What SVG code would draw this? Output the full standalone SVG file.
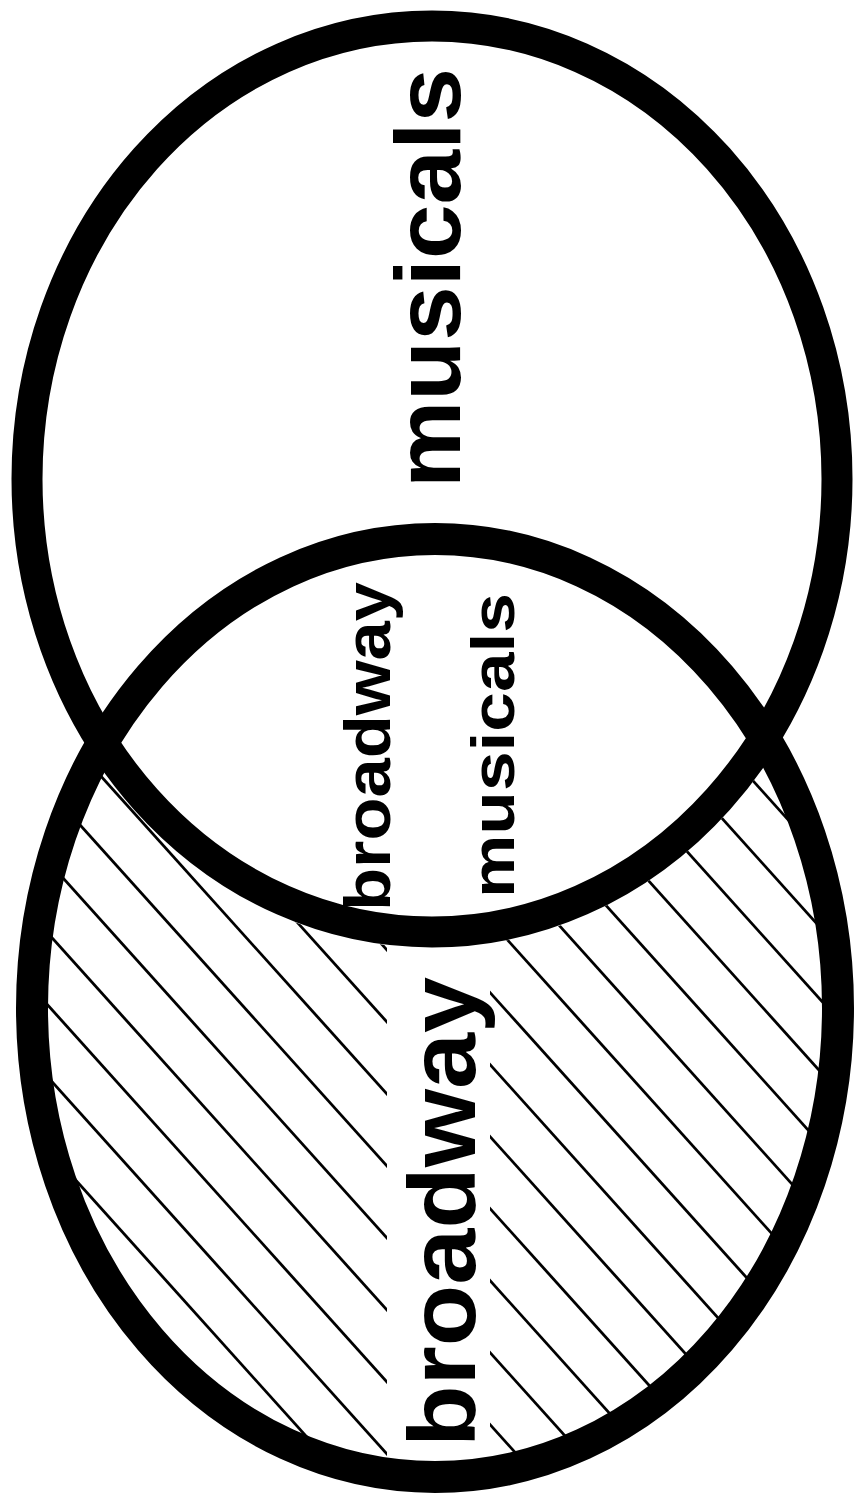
<svg xmlns="http://www.w3.org/2000/svg" width="854" height="1495" viewBox="0 0 854 1495">
  <style>
    .ring { fill: none; stroke: #000; }
    .hatch line { stroke: #000; stroke-width: 2.8; }
    .lbl { font-family: "Liberation Sans", Arial, Helvetica, sans-serif; font-weight: bold; fill: #000; }
  </style>
  <defs>
    <mask id="hatchMask" maskUnits="userSpaceOnUse" x="0" y="0" width="854" height="1495">
      <rect x="0" y="0" width="854" height="1495" fill="#000"/>
      <ellipse cx="435" cy="1008" rx="402" ry="469" fill="#fff"/>
      <ellipse cx="432" cy="479" rx="420" ry="469" fill="#000"/>
      <rect x="387" y="900" width="103" height="600" fill="#000"/>
    </mask>
  </defs>
  <rect x="0" y="0" width="854" height="1495" fill="#fff"/>

  <g id="hatching" class="hatch" mask="url(#hatchMask)">
    <line x1="0" y1="-416" x2="854" y2="533"/>
    <line x1="0" y1="-344" x2="854" y2="605"/>
    <line x1="0" y1="-272" x2="854" y2="677"/>
    <line x1="0" y1="-200" x2="854" y2="749"/>
    <line x1="0" y1="-128" x2="854" y2="821"/>
    <line x1="0" y1="-56" x2="854" y2="893"/>
    <line x1="0" y1="16" x2="854" y2="965"/>
    <line x1="0" y1="88" x2="854" y2="1037"/>
    <line x1="0" y1="160" x2="854" y2="1109"/>
    <line x1="0" y1="232" x2="854" y2="1181"/>
    <line x1="0" y1="304" x2="854" y2="1253"/>
    <line x1="0" y1="376" x2="854" y2="1325"/>
    <line x1="0" y1="448" x2="854" y2="1397"/>
    <line x1="0" y1="520" x2="854" y2="1469"/>
    <line x1="0" y1="592" x2="854" y2="1541"/>
    <line x1="0" y1="664" x2="854" y2="1613"/>
    <line x1="0" y1="736" x2="854" y2="1685"/>
    <line x1="0" y1="808" x2="854" y2="1757"/>
    <line x1="0" y1="880" x2="854" y2="1829"/>
    <line x1="0" y1="952" x2="854" y2="1901"/>
    <line x1="0" y1="1024" x2="854" y2="1973"/>
    <line x1="0" y1="1096" x2="854" y2="2045"/>
    <line x1="0" y1="1168" x2="854" y2="2117"/>
    <line x1="0" y1="1240" x2="854" y2="2189"/>
    <line x1="0" y1="1312" x2="854" y2="2261"/>
    <line x1="0" y1="1384" x2="854" y2="2333"/>
    <line x1="0" y1="1456" x2="854" y2="2405"/>
  </g>

  <g id="musicals">
    <ellipse class="ring" cx="432" cy="479" rx="405" ry="453" stroke-width="31"/>
    <text class="lbl" transform="translate(460,488) rotate(-90)" font-size="92" textLength="420" lengthAdjust="spacingAndGlyphs">musicals</text>
  </g>

  <g id="broadway">
    <ellipse class="ring" cx="435" cy="1008" rx="403" ry="469" stroke-width="32"/>
    <text class="lbl" transform="translate(475,1447) rotate(-90)" font-size="94" textLength="470" lengthAdjust="spacingAndGlyphs">broadway</text>
  </g>

  <g id="broadway-musicals">
    <text class="lbl" transform="translate(390,911) rotate(-90)" font-size="65" textLength="329" lengthAdjust="spacingAndGlyphs">broadway</text>
    <text class="lbl" transform="translate(514,898) rotate(-90)" font-size="62" textLength="305" lengthAdjust="spacingAndGlyphs">musicals</text>
  </g>
</svg>
